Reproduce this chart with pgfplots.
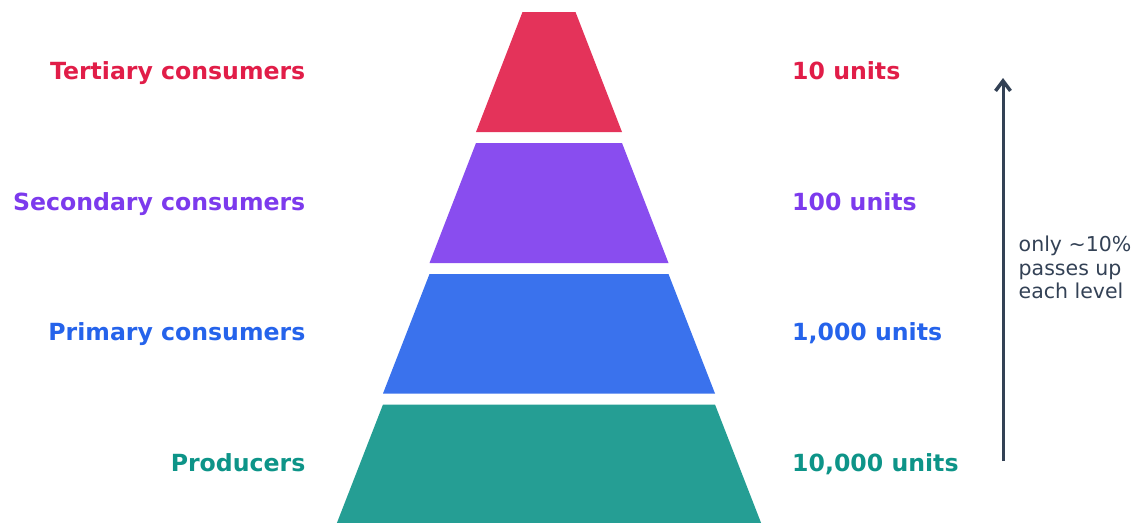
\documentclass[border=0pt]{standalone}
\usepackage{pgfplots}
\pgfplotsset{compat=1.18}
\usepackage{fontspec}
\setmainfont{DejaVu Sans}
\usetikzlibrary{arrows.meta}
\definecolor{cRose}{HTML}{E11D48}
\definecolor{cViolet}{HTML}{7C3AED}
\definecolor{cBlue}{HTML}{2563EB}
\definecolor{cTeal}{HTML}{0D9488}
\definecolor{cSlate}{HTML}{334155}
\begin{document}
\begin{tikzpicture}
\useasboundingbox (0,0) rectangle (1135pt,522pt);
\begin{axis}[at={(0,0)}, anchor=south west, scale only axis,
  width=1135pt, height=522pt, xmin=0, xmax=1135, ymin=0, ymax=522,
  y dir=reverse, hide axis, clip=false]
% Tiers (pixel coordinates)
\addplot[fill=cRose, fill opacity=0.9, draw=none] coordinates {(522.5,12) (575.5,12) (622,132) (476,132)} -- cycle;
\addplot[fill=cViolet, fill opacity=0.9, draw=none] coordinates {(476,143) (622,143) (668.5,263) (429.5,263)} -- cycle;
\addplot[fill=cBlue, fill opacity=0.9, draw=none] coordinates {(429.5,274) (668.5,274) (715,393.5) (383,393.5)} -- cycle;
\addplot[fill=cTeal, fill opacity=0.9, draw=none] coordinates {(383,404.5) (715,404.5) (761.5,524) (336.5,524)} -- cycle;
% Left labels
\tikzset{lab/.style={inner sep=0pt, font=\fontsize{23.6}{28}\selectfont\bfseries}}
\node[lab, anchor=base east, text=cRose] at (axis cs:305.5,79) {Tertiary consumers};
\node[lab, anchor=base east, text=cViolet] at (axis cs:305.5,210) {Secondary consumers};
\node[lab, anchor=base east, text=cBlue] at (axis cs:305.5,340.8) {Primary consumers};
\node[lab, anchor=base east, text=cTeal] at (axis cs:305.5,471) {Producers};
% Right labels
\node[lab, anchor=base west, text=cRose] at (axis cs:792,79) {10 units};
\node[lab, anchor=base west, text=cViolet] at (axis cs:792,210) {100 units};
\node[lab, anchor=base west, text=cBlue] at (axis cs:792,340.8) {1,000 units};
\node[lab, anchor=base west, text=cTeal] at (axis cs:792,471) {10,000 units};
% Arrow
\draw[cSlate, line width=3pt, -{Straight Barb[length=10pt, width=15pt, line width=3.5pt]}] (axis cs:1003,461) -- (axis cs:1003,78);
\tikzset{ann/.style={inner sep=0pt, anchor=base west, text=cSlate, font=\fontsize{20.5}{24}\selectfont}}
\node[ann] at (axis cs:1018.5,251.5) {only \textasciitilde10\%};
\node[ann] at (axis cs:1018.5,275) {passes up};
\node[ann] at (axis cs:1018.5,298.5) {each level};
\end{axis}
\end{tikzpicture}
\end{document}
